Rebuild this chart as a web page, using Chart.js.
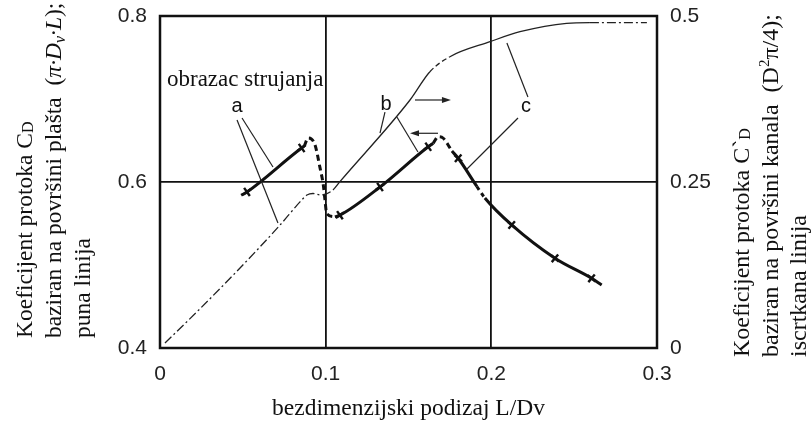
<!DOCTYPE html>
<html>
<head>
<meta charset="utf-8">
<script src="https://cdn.jsdelivr.net/npm/chart.js@4"></script>
<style>
  html, body { margin: 0; padding: 0; background: #fff; }
  #wrap { width: 811px; height: 432px; }
</style>
</head>
<body>
<div id="wrap"><canvas id="chart"></canvas></div>
<script>
// values: x = L/Dv, left axis = CD, right axis = C'D
const xTickLabels = ['0', '0.1', '0.2', '0.3'];
const leftTickLabels = ['0.4', '0.6', '0.8'];
const rightTickLabels = ['0', '0.25', '0.5'];

// CD (thick line), flow patterns a, b, c and the dashed jumps between them
const curveA = [[0.049, 0.584], [0.0525, 0.588], [0.0855, 0.641], [0.087, 0.643]];
const jumpAB = [[0.087, 0.643], [0.0895, 0.653], [0.0935, 0.645], [0.0966, 0.617],
  [0.0986, 0.596], [0.0996, 0.578], [0.1006, 0.562], [0.1056, 0.558]];
const curveB = [[0.1056, 0.558], [0.1086, 0.560], [0.1328, 0.594], [0.1619, 0.6425], [0.1649, 0.6466]];
const jumpBC = [[0.1649, 0.6466], [0.168, 0.6546], [0.171, 0.6527], [0.1762, 0.6373]];
const curveC = [[0.1762, 0.6373], [0.18, 0.6286], [0.1913, 0.5946], [0.1961, 0.5807],
  [0.2123, 0.5482], [0.2384, 0.5081], [0.2605, 0.484], [0.2666, 0.4759]];

// measured points (crosses)
const measured = [[0.0525, 0.588], [0.0855, 0.641], [0.1086, 0.560], [0.1328, 0.594],
  [0.1619, 0.6425], [0.18, 0.6286], [0.2123, 0.5482], [0.2384, 0.5081], [0.2605, 0.484]];

// C'D (thin line, right axis)
const channelCurve = [[0.003, 0.0075], [0.0241, 0.059], [0.0483, 0.1205], [0.0724, 0.185],
  [0.0845, 0.22], [0.0887, 0.2304], [0.0923, 0.2327], [0.0972, 0.2304], [0.1044, 0.238],
  [0.1086, 0.2505], [0.1509, 0.3735], [0.1629, 0.4161], [0.175, 0.4387], [0.1992, 0.4613],
  [0.2173, 0.4763], [0.2454, 0.489], [0.2595, 0.49], [0.2939, 0.49]];

const INK = '#111';
const SERIF = '"Liberation Serif", "Times New Roman", serif';
const SANS = '"Liberation Sans", Arial, sans-serif';

function thick(data, dashed) {
  return {
    data, yAxisID: 'y', borderColor: INK, borderWidth: 3,
    borderDash: dashed ? [6, 4] : [], pointRadius: 0,
    cubicInterpolationMode: 'monotone', showLine: true
  };
}

function drawRuns(ctx, runs, x, y) {
  let cx = x;
  for (const r of runs) {
    ctx.font = r.font;
    ctx.fillText(r.t, cx, y + (r.dy || 0));
    cx += ctx.measureText(r.t).width;
  }
}

const f = s => s + 'px ' + SERIF;
const fi = s => 'italic ' + s + 'px ' + SERIF;

const decor = {
  id: 'decor',
  beforeDraw(chart) {
    const ctx = chart.ctx;
    ctx.save();
    ctx.fillStyle = '#fff';
    ctx.fillRect(0, 0, chart.width, chart.height);
    ctx.restore();
  },
  afterDraw(chart) {
    const { ctx, chartArea: a, scales } = chart;
    const X = v => scales.x.getPixelForValue(v);
    const Y = v => scales.y.getPixelForValue(v);
    ctx.save();

    // frame
    ctx.strokeStyle = INK;
    ctx.lineWidth = 2.5;
    ctx.strokeRect(a.left, a.top, a.right - a.left, a.bottom - a.top);

    // leader lines (data coordinates, left axis)
    ctx.lineWidth = 1.2;
    ctx.strokeStyle = '#222';
    const leaders = [
      [0.0465, 0.6747, 0.0712, 0.5506],
      [0.0495, 0.6771, 0.0682, 0.6181],
      [0.1358, 0.6843, 0.1328, 0.659],
      [0.143, 0.6783, 0.1557, 0.6361],
      [0.2094, 0.7675, 0.2221, 0.7024],
      [0.2161, 0.6771, 0.1853, 0.6157]
    ];
    for (const [x1, y1, x2, y2] of leaders) {
      ctx.beginPath();
      ctx.moveTo(X(x1), Y(y1));
      ctx.lineTo(X(x2), Y(y2));
      ctx.stroke();
    }

    // arrows
    const arrows = [
      [0.1539, 0.1756, 0.6988],
      [0.1678, 0.1509, 0.6587]
    ];
    ctx.fillStyle = '#222';
    for (const [x1, x2, yv] of arrows) {
      const p1 = X(x1), p2 = X(x2), py = Y(yv);
      const dir = Math.sign(p2 - p1);
      ctx.beginPath();
      ctx.moveTo(p1, py);
      ctx.lineTo(p2 - dir * 6, py);
      ctx.stroke();
      ctx.beginPath();
      ctx.moveTo(p2, py);
      ctx.lineTo(p2 - dir * 9, py - 3);
      ctx.lineTo(p2 - dir * 9, py + 3);
      ctx.closePath();
      ctx.fill();
    }

    // labels
    ctx.fillStyle = INK;
    ctx.textBaseline = 'alphabetic';
    ctx.textAlign = 'left';
    ctx.font = f(23);
    ctx.fillText('obrazac strujanja', 167, 86);
    ctx.textAlign = 'center';
    ctx.font = '20px ' + SANS;
    ctx.fillText('a', 237, 112);
    ctx.fillText('b', 386, 110);
    ctx.fillText('c', 526, 112);

    // x title
    ctx.font = f(23.5);
    ctx.fillText('bezdimenzijski podizaj L/Dv', (a.left + a.right) / 2, 415);

    // rotated y titles
    ctx.textAlign = 'left';
    const vertical = (lines, bottom) => {
      for (const [bx, runs] of lines) {
        ctx.save();
        ctx.translate(bx, bottom);
        ctx.rotate(-Math.PI / 2);
        drawRuns(ctx, runs, 0, 0);
        ctx.restore();
      }
    };
    vertical([
      [32, [{ t: 'Koeficijent protoka C', font: f(23.5) }, { t: 'D', font: f(16), dy: 1 }]],
      [61, [{ t: 'baziran na površini plašta  (', font: f(23.5) }, { t: 'π·D', font: fi(23.5) },
            { t: 'v', font: fi(16), dy: 4 }, { t: '·L', font: fi(23.5) }, { t: ');', font: f(23.5) }]],
      [90, [{ t: 'puna linija', font: f(23.5) }]]
    ], 338);
    vertical([
      [749, [{ t: 'Koeficijent protoka C`', font: f(24) }, { t: 'D', font: f(16), dy: 1 }]],
      [778, [{ t: 'baziran na površini kanala  (D', font: f(24) }, { t: '2', font: f(15), dy: -9 },
             { t: 'π/4);', font: f(24) }]],
      [806, [{ t: 'iscrtkana linija', font: f(24) }]]
    ], 357);

    ctx.restore();
  }
};

const channelDash = ctx => {
  const x = ctx.p0.parsed.x;
  if (x < 0.1) return [9, 3, 2, 3];
  if (x >= 0.1629 && x < 0.175) return [5, 3];
  if (x >= 0.2595) return [9, 3, 2, 3];
  return [];
};

new Chart(document.getElementById('chart'), {
  type: 'line',
  data: {
    datasets: [
      {
        data: channelCurve, yAxisID: 'y2', borderColor: '#222', borderWidth: 1.3,
        pointRadius: 0, cubicInterpolationMode: 'monotone',
        segment: { borderDash: channelDash }
      },
      thick(curveA, false),
      thick(jumpAB, true),
      thick(curveB, false),
      thick(jumpBC, true),
      Object.assign(thick(curveC, false), {
        segment: { borderDash: ctx => ctx.p0DataIndex === 2 ? [4, 4] : [] }
      }),
      {
        data: measured, yAxisID: 'y', showLine: false,
        pointStyle: 'cross', pointRadius: 5, pointBorderWidth: 2.4,
        pointBorderColor: INK,
        pointRotation: ctx => (ctx.raw && ctx.raw[0] > 0.175 ? 40 : -35)
      }
    ]
  },
  options: {
    responsive: true,
    maintainAspectRatio: false,
    animation: false,
    layout: { padding: { top: 16, left: 0, right: 0, bottom: 0 } },
    plugins: { legend: { display: false }, tooltip: { enabled: false } },
    scales: {
      x: {
        type: 'linear', min: 0, max: 0.3,
        ticks: {
          stepSize: 0.1, padding: 14, color: '#222',
          font: { family: SANS, size: 21 },
          callback: (v, i) => xTickLabels[i]
        },
        grid: { color: INK, lineWidth: 1.8, drawTicks: false },
        border: { display: false },
        afterFit: s => { s.height = 84; s.paddingLeft = 0; s.paddingRight = 0; }
      },
      y: {
        position: 'left', min: 0.4, max: 0.8,
        ticks: {
          stepSize: 0.2, padding: 13, color: '#222',
          font: { family: SANS, size: 21 },
          callback: (v, i) => leftTickLabels[i]
        },
        grid: { color: INK, lineWidth: 1.8, drawTicks: false },
        border: { display: false },
        afterFit: s => { s.width = 160; s.paddingTop = 0; s.paddingBottom = 0; }
      },
      y2: {
        position: 'right', min: 0, max: 0.5,
        ticks: {
          stepSize: 0.25, padding: 13, color: '#222',
          font: { family: SANS, size: 21 },
          callback: (v, i) => rightTickLabels[i]
        },
        grid: { display: false, drawTicks: false },
        border: { display: false },
        afterFit: s => { s.width = 154; s.paddingTop = 0; s.paddingBottom = 0; }
      }
    }
  },
  plugins: [decor]
});
</script>
</body>
</html>
